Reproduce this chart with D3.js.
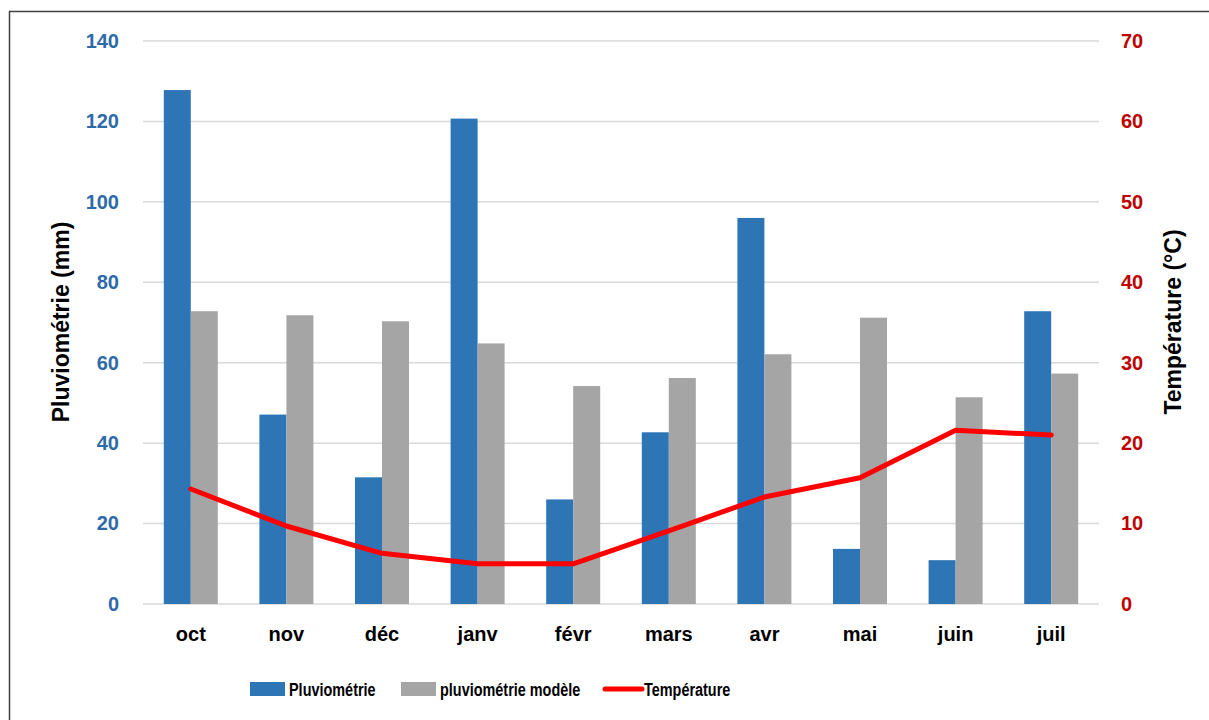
<!DOCTYPE html>
<html><head><meta charset="utf-8">
<script src="https://cdn.jsdelivr.net/npm/d3@7"></script>
<style>body{margin:0;background:#fff;} svg{display:block;font-family:"Liberation Sans",Arial,sans-serif;font-weight:bold;}</style>
</head><body>
<svg id="c" width="1209" height="720"></svg>
<script>
const months = ["oct","nov","déc","janv","févr","mars","avr","mai","juin","juil"];
const pluvio = [127.8,47.1,31.5,120.7,26,42.7,96,13.7,10.9,72.8];
const pluvioModele = [72.8,71.8,70.3,64.8,54.2,56.2,62.1,71.2,51.4,57.3];
const temperature = [14.3,9.7,6.3,5.0,5.0,9.1,13.3,15.7,21.6,21.0];
const leftTicks = [0,20,40,60,80,100,120,140];
const rightTicks = [0,10,20,30,40,50,60,70];

const FONT = '"Liberation Sans", Arial, sans-serif';
const svg = d3.select("#c");
const m = {l:143, r:1099, t:41, b:604};
// frame
svg.append("path").attr("d","M9.5,720 V11.5 H1209").attr("fill","none").attr("stroke","#404040").attr("stroke-width",1.5);

const x = d3.scaleBand().domain(months).range([m.l,m.r]);
const yL = d3.scaleLinear().domain([0,140]).range([m.b,m.t]);
const yR = d3.scaleLinear().domain([0,70]).range([m.b,m.t]);
const bw = 27;

// gridlines
svg.append("g").selectAll("line").data(leftTicks).join("line")
  .attr("x1",m.l).attr("x2",m.r).attr("y1",d=>yL(d)).attr("y2",d=>yL(d))
  .attr("stroke","#d9d9d9").attr("stroke-width",1.5);

function styleText(sel, color){
  sel.selectAll("text").attr("fill",color).attr("font-size",20).attr("font-family",FONT).attr("font-weight","bold");
}
// left axis
const gl = svg.append("g").attr("transform",`translate(${m.l-24},0)`)
  .call(d3.axisLeft(yL).tickValues(leftTicks).tickSize(0).tickPadding(0));
gl.select(".domain").remove();
styleText(gl,"#2E6AA8");

const gr = svg.append("g").attr("transform",`translate(${m.r+22},0)`)
  .call(d3.axisRight(yR).tickValues(rightTicks).tickSize(0).tickPadding(0));
gr.select(".domain").remove();
styleText(gr,"#C00000");

const gx = svg.append("g").attr("transform",`translate(0,${m.b+23})`)
  .call(d3.axisBottom(x).tickSize(0).tickPadding(0));
gx.select(".domain").remove();
styleText(gx,"#000");

// bars
const cx = d => x(d) + x.bandwidth()/2;
svg.append("g").selectAll("rect").data(months).join("rect")
  .attr("x",d=>cx(d)-bw).attr("width",bw)
  .attr("y",(d,i)=>yL(pluvio[i])).attr("height",(d,i)=>yL(0)-yL(pluvio[i]))
  .attr("fill","#2E75B6");
svg.append("g").selectAll("rect").data(months).join("rect")
  .attr("x",d=>cx(d)).attr("width",bw)
  .attr("y",(d,i)=>yL(pluvioModele[i])).attr("height",(d,i)=>yL(0)-yL(pluvioModele[i]))
  .attr("fill","#A5A5A5");

// line
const line = d3.line().x((d,i)=>cx(months[i])).y(d=>yR(d));
svg.append("path").datum(temperature).attr("d",line).attr("fill","none")
  .attr("stroke","#FF0000").attr("stroke-width",5).attr("stroke-linejoin","round").attr("stroke-linecap","round");

// axis titles
svg.append("text").attr("transform","translate(69,322) rotate(-90)").attr("text-anchor","middle")
  .attr("font-size",23).attr("fill","#000").text("Pluviométrie (mm)");
svg.append("text").attr("transform","translate(1181,322) rotate(-90)").attr("text-anchor","middle")
  .attr("font-size",23).attr("fill","#000").text("Température (°C)");

// legend
const lg = svg.append("g").attr("font-size",19);
const legendItems = [
  {label:"Pluviométrie", kind:"rect", color:"#2E75B6", x:250},
  {label:"pluviométrie modèle", kind:"rect", color:"#A5A5A5", x:401},
  {label:"Température", kind:"line", color:"#FF0000", x:605}
];
legendItems.forEach(it=>{
  if(it.kind==="rect"){
    lg.append("rect").attr("x",it.x).attr("y",682).attr("width",35).attr("height",14).attr("fill",it.color);
  } else {
    lg.append("line").attr("x1",it.x).attr("x2",it.x+37).attr("y1",689).attr("y2",689).attr("stroke",it.color).attr("stroke-width",5).attr("stroke-linecap","round");
  }
  lg.append("text").attr("transform",`translate(${it.x+39},696) scale(0.76,1)`).attr("fill","#000").text(it.label);
});
</script>
</body></html>
